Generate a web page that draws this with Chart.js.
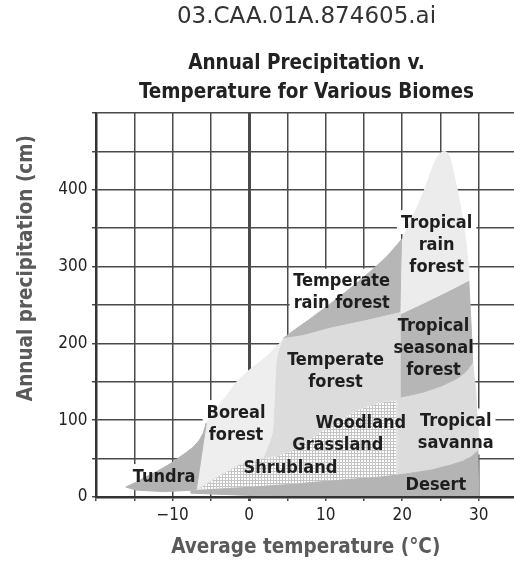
<!DOCTYPE html>
<html>
<head>
<meta charset="utf-8">
<script src="https://cdn.jsdelivr.net/npm/chart.js@4.4.0/dist/chart.umd.min.js"></script>
<style>
  html, body { margin: 0; padding: 0; background: #fff; overflow: hidden; }
  #wrap { width: 540px; height: 568px; }
</style>
</head>
<body>
<div id="wrap"><canvas id="biomes" width="540" height="568"></canvas></div>
<script>
// biome outlines: temperature (°C) / precipitation (cm)
const tundraT = [-16.1, -14.8, -13.5, -12.3, -11.2, -10.2, -9.2, -8.2, -7.3, -6.5, -6.0, -5.6, -6.9, -11.2, -14.8];
const tundraP = [13, 19, 26, 32, 38, 44, 51, 58, 65, 74, 83, 96, 9, 7, 9];

const borealT = [-5.6, -4.8, -4.0, -2.8, -1.7, -0.8, 0.0, 0.9, 1.8, 2.6, 3.3, 4.0, 4.4, 3.8, 3.5, 3.3, 3.1, 2.8, 2.4, 1.8, -1.3, -3.3, -5.6, -6.9];
const borealP = [96, 107, 118, 134, 149, 158, 165, 172, 179, 186, 193, 200, 206, 190, 175, 130, 87, 75, 65, 50, 42, 31, 17, 9];

const tempForestT = [4.4, 7.0, 10.7, 15.0, 19.7, 19.7, 19.3, 17.6, 16.0, 14.1, 12.0, 9.7, 7.5, 5.5, 3.5, 1.8, 2.4, 2.8, 3.1, 3.3, 3.5, 3.8];
const tempForestP = [206, 210, 220, 229, 240, 128, 126, 124, 120, 113, 101, 87, 73, 60, 53, 50, 65, 75, 87, 130, 175, 190];

const tempRainT = [4.4, 6.0, 8.0, 10.0, 12.0, 14.0, 16.0, 18.0, 19.9, 19.7, 15.0, 10.7, 7.0];
const tempRainP = [206, 218, 232, 247, 262, 278, 295, 313, 335, 240, 229, 220, 210];

const tropRainT = [19.7, 19.9, 20.2, 21.0, 22.0, 23.0, 23.7, 24.2, 24.6, 25.0, 25.4, 25.8, 26.1, 26.4, 26.7, 27.2, 27.6, 28.0, 28.3, 28.6, 28.7, 26.4, 22.9];
const tropRainP = [238, 333, 339, 358, 378, 402, 422, 435, 443, 448, 450, 449, 445, 436, 422, 400, 378, 356, 335, 305, 282, 270, 253];

const seasonalT = [19.7, 22.9, 26.4, 28.7, 28.9, 29.1, 29.2, 28.4, 27.3, 25.2, 22.9, 21.2, 19.7];
const seasonalP = [238, 253, 270, 282, 244, 205, 175, 164, 155, 145, 137, 133, 130];

const savannaT = [19.3, 19.7, 21.2, 22.9, 25.2, 27.3, 28.4, 29.2, 29.6, 29.8, 29.9, 29.0, 26.5, 23.8, 20.5, 19.3];
const savannaP = [126, 130, 133, 137, 145, 155, 164, 175, 140, 100, 60, 52, 42, 35, 30, 28];

const scrubT = [-6.9, -5.6, -3.3, -1.3, 1.8, 3.5, 5.5, 7.5, 9.7, 12.0, 14.1, 16.0, 17.6, 19.3, 19.3, 17.3, 12.0, 5.0, -1.0];
const scrubP = [9, 17, 31, 42, 50, 53, 60, 73, 87, 101, 113, 120, 124, 126, 28, 26, 22, 16, 12];

const desertT = [-7.6, -1.0, 5.0, 12.0, 17.3, 20.5, 23.8, 26.5, 28.0, 29.0, 29.9, 30.0, 10.0, 0.0, -7.6];
const desertP = [8, 12, 16, 22, 26, 30, 35, 42, 47, 52, 60, 0, 0, 2, 5];

const xTickLabels = [-10, 0, 10, 20, 30];
const yTickLabels = [0, 100, 200, 300, 400];

// label text, anchored at the middle line (°C, cm)
const biomeLabels = [
    { lines: ['Tropical', 'rain', 'forest'], x: 24.5, y: 328, box: true },
    { lines: ['Temperate', 'rain forest'], x: 12.1, y: 266, box: true },
    { lines: ['Temperate', 'forest'], x: 11.3, y: 164 },
    { lines: ['Tropical', 'seasonal', 'forest'], x: 24.1, y: 194 },
    { lines: ['Boreal', 'forest'], x: -1.7, y: 95, box: true },
    { lines: ['Woodland'], x: 14.6, y: 96 },
    { lines: ['Grassland'], x: 11.6, y: 67 },
    { lines: ['Shrubland'], x: 5.4, y: 37 },
    { lines: ['Tropical', 'savanna'], x: 27.0, y: 84, box: true },
    { lines: ['Tundra'], x: -11.1, y: 26, box: true },
    { lines: ['Desert'], x: 24.4, y: 15 }
];

const COND = "'DejaVu Sans Condensed', 'DejaVu Sans', sans-serif";
const labelFont = 'bold 18px ' + COND;
const lineGap = 22;

const canvas = document.getElementById('biomes');
const ctx = canvas.getContext('2d');

// fine screen for woodland / shrubland
const dotTile = document.createElement('canvas');
dotTile.width = 3; dotTile.height = 3;
const dt = dotTile.getContext('2d');
dt.fillStyle = '#c4c4c4'; dt.fillRect(0, 0, 3, 3);
dt.fillStyle = '#ffffff'; dt.fillRect(1, 1, 2, 2);
const dots = ctx.createPattern(dotTile, 'repeat');

const poly = (T, P) => {
    const pts = T.map((t, i) => ({ x: t, y: P[i] }));
    pts.push({ x: T[0], y: P[0] });
    return pts;
};

const region = (T, P, color, edge) => ({
    data: poly(T, P),
    showLine: true,
    fill: 'shape',
    backgroundColor: color,
    borderColor: edge || color,
    borderWidth: 1,
    pointRadius: 0,
    pointHoverRadius: 0,
    tension: 0
});

const lineCenters = (chart, l) => {
    const cx = chart.scales.x.getPixelForValue(l.x);
    const cy = chart.scales.y.getPixelForValue(l.y);
    const n = l.lines.length;
    return l.lines.map((txt, i) => [cx, cy + (i - (n - 1) / 2) * lineGap, txt]);
};

const biomeText = {
    id: 'biomeText',
    beforeDatasetsDraw(chart) {
        // white patches break the grid behind some labels
        const c = chart.ctx;
        c.save();
        c.font = labelFont;
        c.fillStyle = '#ffffff';
        biomeLabels.filter(l => l.box).forEach(l => {
            lineCenters(chart, l).forEach(([cx, cy, txt]) => {
                const w = c.measureText(txt).width;
                c.fillRect(cx - w / 2 - 4, cy - 13, w + 8, 24);
            });
        });
        c.restore();
    },
    afterDatasetsDraw(chart) {
        const c = chart.ctx;
        c.save();
        c.font = labelFont;
        c.fillStyle = '#1e1e1e';
        c.textAlign = 'center';
        c.textBaseline = 'middle';
        biomeLabels.forEach(l => {
            lineCenters(chart, l).forEach(([cx, cy, txt]) => c.fillText(txt, cx, cy));
        });
        c.restore();
    },
    afterDraw(chart) {
        const c = chart.ctx;
        const { x, y } = chart.scales;
        c.save();
        c.font = 'bold 20.5px ' + COND;
        c.fillStyle = '#5a5a5a';
        c.textAlign = 'center';
        c.textBaseline = 'middle';
        c.fillText('Average temperature (°C)', x.getPixelForValue(7.4), chart.chartArea.bottom + 51);
        c.translate(chart.chartArea.left - 69, y.getPixelForValue(298));
        c.rotate(-Math.PI / 2);
        c.fillText('Annual precipitation (cm)', 0, 0);
        c.restore();
    }
};

const gridColor = '#4a4a4a';

new Chart(ctx, {
    type: 'scatter',
    data: {
        datasets: [
            region(desertT, desertP, '#b4b4b4'),
            region(scrubT, scrubP, dots, '#e2e2e2'),
            region(tundraT, tundraP, '#b2b2b2'),
            region(borealT, borealP, '#eeeeee'),
            region(tempForestT, tempForestP, '#dcdcdc'),
            region(tempRainT, tempRainP, '#b6b6b6'),
            region(tropRainT, tropRainP, '#ececec'),
            region(seasonalT, seasonalP, '#b6b6b6'),
            region(savannaT, savannaP, '#dcdcdc')
        ]
    },
    options: {
        responsive: false,
        animation: false,
        events: [],
        layout: { padding: { left: 0, right: 23, top: 0, bottom: 0 } },
        plugins: {
            legend: { display: false },
            tooltip: { enabled: false },
            title: {
                display: true,
                text: '03.CAA.01A.874605.ai',
                fullSize: false,
                color: '#333',
                font: { family: "'DejaVu Sans', sans-serif", size: 23, weight: 'normal', lineHeight: 1.15 },
                padding: { top: 4, bottom: 8 }
            },
            subtitle: {
                display: true,
                text: ['Annual Precipitation v.', 'Temperature for Various Biomes'],
                fullSize: false,
                color: '#222',
                font: { family: COND, size: 20.5, weight: 'bold', lineHeight: 1.4146 },
                padding: { top: 11, bottom: 5.5 }
            }
        },
        scales: {
            x: {
                type: 'linear',
                min: -20,
                max: 35,
                afterFit: (s) => { s.height = 71; },
                ticks: {
                    stepSize: 5,
                    autoSkip: false,
                    maxRotation: 0,
                    padding: 4,
                    color: '#222',
                    font: { family: COND, size: 17 },
                    callback: (v) => xTickLabels.includes(v) ? (v < 0 ? '\u2212' + (-v) : String(v)) : ''
                },
                grid: {
                    color: gridColor,
                    lineWidth: (c) => (c.tick && c.tick.value === 0 ? 3 : 1.5),
                    tickLength: 4
                },
                border: { display: true, color: '#333', width: 2.5, z: 1 }
            },
            y: {
                type: 'linear',
                min: 0,
                max: 500,
                afterFit: (s) => { s.width = 96; },
                ticks: {
                    stepSize: 50,
                    autoSkip: false,
                    padding: 4.5,
                    color: '#222',
                    font: { family: COND, size: 17 },
                    callback: (v) => yTickLabels.includes(v) ? String(v) : ''
                },
                grid: {
                    color: gridColor,
                    lineWidth: 1.5,
                    tickLength: 4
                },
                border: { display: true, color: '#333', width: 2.5, z: 1 }
            }
        }
    },
    plugins: [biomeText]
});
</script>
</body>
</html>
